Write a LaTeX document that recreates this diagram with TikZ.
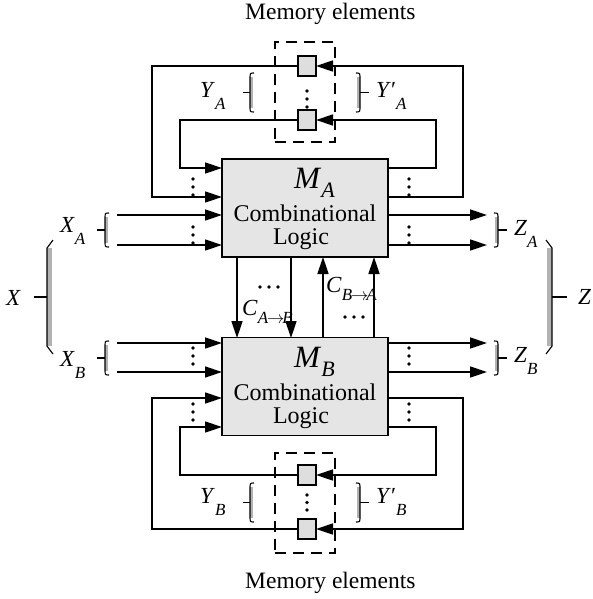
\documentclass[tikz,border=0pt]{standalone}
\usepackage{fontspec}
\setmainfont{Liberation Serif}
\usetikzlibrary{arrows.meta}
\newcommand\SubLab[2]{\textit{#1}\raisebox{-12pt}{\fontsize{17}{17}\selectfont\textit{#2}}}
\newcommand\PrLab[2]{\textit{#1}′\raisebox{-12pt}{\fontsize{17}{17}\selectfont\textit{#2}}}
\newcommand\MLab[1]{{\fontsize{31}{31}\selectfont\textit{M}\raisebox{-9pt}{\fontsize{22}{22}\selectfont\textit{#1}}}}
\newcommand\CLab[2]{\textit{C}\raisebox{-8pt}{\fontsize{17}{17}\selectfont\textit{#1}\kern-1pt$\rightarrow$\kern-2pt\textit{#2}}}
\tikzset{
  lw/.style={line width=1.4pt},
  arr/.style={lw,-{Triangle[length=17pt,width=11pt]}},
  cl/.style={draw,lw,fill=black!10,minimum width=166pt,minimum height=98pt,inner sep=0pt,outer sep=0pt},
  mem/.style={draw,lw,fill=black!13,minimum width=18pt,minimum height=20pt,inner sep=0pt,outer sep=0pt},
  dbox/.style={draw,lw,dash pattern=on 11pt off 7pt,minimum width=60pt,minimum height=100pt,inner sep=0pt},
  lab/.style={font=\fontsize{23}{27}\selectfont,inner sep=0pt,anchor=base west},
  big/.style={font=\fontsize{24}{28}\selectfont,inner sep=0pt,anchor=base},
  brline/.style={line width=1.1pt},
  brfill/.style={fill=black!30},
}
\newcommand\Brk[5]{%
  \fill[brfill] ({#1},{#2+4}) rectangle ({#1+3*#4},{#3-4});
  \draw[brline] ({#1+4*#4},{#2}) .. controls ({#1},{#2}) .. ({#1},{#2+6}) -- ({#1},{#3-6}) .. controls ({#1},{#3}) .. ({#1+4*#4},{#3});
  \draw[brline] ({#1},{(#2+#3)/2}) -- ({#1-#5*#4},{(#2+#3)/2});
}
\newcommand\BBrk[5]{%
  \fill[brfill] ({#1},{#2}) rectangle ({#1+5*#4},{#3});
  \draw[brline] ({#1+6*#4},{#2-8}) -- ({#1},{#2}) -- ({#1},{#3}) -- ({#1+6*#4},{#3+8});
  \draw[brline] ({#1},{(#2+#3)/2}) -- ({#1-#5*#4},{(#2+#3)/2});
}
\begin{document}
\begin{tikzpicture}[x=1pt,y=-1pt]
\useasboundingbox (0,0) rectangle (593,599);
% combinational blocks
\node[cl] (MA) at (305,208) {};
\node[cl] (MB) at (305,386.5) {};
% memory boxes
\node[dbox] (DA) at (305,92) {};
\node[dbox] (DB) at (305,503) {};
% coordinates on the blocks
\coordinate (ain1) at (222,168);
\coordinate (ain2) at (222,197);
\coordinate (aout1) at (388,168);
\coordinate (aout2) at (388,197);
\coordinate (xa1) at (222,215);
\coordinate (xa2) at (222,245);
\coordinate (za1) at (388,215);
\coordinate (za2) at (388,245);
\coordinate (xb1) at (222,343);
\coordinate (xb2) at (222,372);
\coordinate (zb1) at (388,343);
\coordinate (zb2) at (388,372);
\coordinate (bin1) at (222,398);
\coordinate (bin2) at (222,427);
\coordinate (bout1) at (388,398);
\coordinate (bout2) at (388,427);
\coordinate (ab1) at (237,257);
\coordinate (ab2) at (291,257);
\coordinate (ab3) at (323,257);
\coordinate (ab4) at (374,257);
\coordinate (bt1) at (237,338);
\coordinate (bt2) at (291,338);
\coordinate (bt3) at (323,338);
\coordinate (bt4) at (374,338);
% free ends
\coordinate (XA1) at (117,215);
\coordinate (XA2) at (117,245);
\coordinate (XB1) at (117,343);
\coordinate (XB2) at (117,372);
\coordinate (ZA1) at (487,215);
\coordinate (ZA2) at (487,245);
\coordinate (ZB1) at (487,343);
\coordinate (ZB2) at (487,372);
% loops A
\draw[arr] (305,66) -| ([xshift=-70pt]ain2) -- (ain2);
\draw[arr] (305,120) -| ([xshift=-42pt]ain1) -- (ain1);
\draw[arr] (aout2) -- ([xshift=75pt]aout2) |- (316,66);
\draw[arr] (aout1) -- ([xshift=48pt]aout1) |- (316,120);
% loops B
\draw[arr] (305,529) -| ([xshift=-70pt]bin1) -- (bin1);
\draw[arr] (305,475) -| ([xshift=-42pt]bin2) -- (bin2);
\draw[arr] (bout1) -- ([xshift=75pt]bout1) |- (316,529);
\draw[arr] (bout2) -- ([xshift=48pt]bout2) |- (316,475);
% memory cells
\node[mem] (a1) at (307,66) {};
\node[mem] (a2) at (307,120) {};
\node[mem] (b1) at (307,475) {};
\node[mem] (b2) at (307,529) {};
% inputs / outputs
\draw[arr] (XA1) -- (xa1);
\draw[arr] (XA2) -- (xa2);
\draw[arr] (XB1) -- (xb1);
\draw[arr] (XB2) -- (xb2);
\draw[arr] (za1) -- (ZA1);
\draw[arr] (za2) -- (ZA2);
\draw[arr] (zb1) -- (ZB1);
\draw[arr] (zb2) -- (ZB2);
% cross connections
\draw[arr] (ab1) -- (bt1);
\draw[arr] (ab2) -- (bt2);
\draw[arr] (bt3) -- (ab3);
\draw[arr] (bt4) -- (ab4);
% dots
\foreach \px/\py in {193/179,193/187,193/195, 409/179,409/187,409/195,
  193/227,193/235,193/243, 409/227,409/235,409/243,
  193/348,193/356,193/364, 409/348,409/356,409/364,
  193/404,193/412,193/420, 409/404,409/412,409/420,
  307/91,307/99,307/107, 307/495,307/502.5,307/510,
  260/287,269/287,278/287, 345/317,354/317,363/317}
  \fill (\px,\py) circle[radius=1.8pt];
% braces
\Brk{105}{213}{247}{1}{8}
\Brk{105}{341}{375}{1}{8}
\Brk{498}{213}{247}{-1}{9}
\Brk{498}{341}{375}{-1}{9}
\Brk{250}{73}{112}{1}{7}
\Brk{360}{73}{112}{-1}{9}
\Brk{250}{483}{522}{1}{7}
\Brk{360}{483}{522}{-1}{9}
\BBrk{47}{248}{346}{1}{13}
\BBrk{552}{248}{346}{-1}{15}
% block texts
\node[inner sep=0pt,anchor=base west] (ma) at (294,188) {\MLab{A}};
\node[big] (ca) at (305,221) {Combinational};
\node[big] (la) at (301,244) {Logic};
\node[inner sep=0pt,anchor=base west] (mb) at (294,367) {\MLab{B}};
\node[big] (cb) at (305,400) {Combinational};
\node[big] (lb) at (301,423) {Logic};
% labels
\node[lab] (lxa) at (60,232) {\SubLab{X}{A}};
\node[lab] (lxb) at (60,366) {\SubLab{X}{B}};
\node[lab] (lza) at (514,235) {\SubLab{Z}{A}};
\node[lab] (lzb) at (514,362) {\SubLab{Z}{B}};
\node[lab] (lya) at (200,98) {\SubLab{Y}{A}};
\node[lab] (lyb) at (200,503) {\SubLab{Y}{B}};
\node[lab] (lypa) at (376,98) {\PrLab{Y}{A}};
\node[lab] (lypb) at (376,503) {\PrLab{Y}{B}};
\node[lab] (lx) at (6,305) {\textit{X}};
\node[lab] (lz) at (578,304) {\textit{Z}};
\node[lab] (lcab) at (242,315) {\CLab{A}{B}};
\node[lab] (lcba) at (326,292) {\CLab{B}{A}};
\node[big,anchor=base west,font=\fontsize{23.5}{28}\selectfont] (mt) at (245,20) {Memory elements};
\node[big,anchor=base west,font=\fontsize{23.5}{28}\selectfont] (mbt) at (245,588) {Memory elements};
\end{tikzpicture}
\end{document}
